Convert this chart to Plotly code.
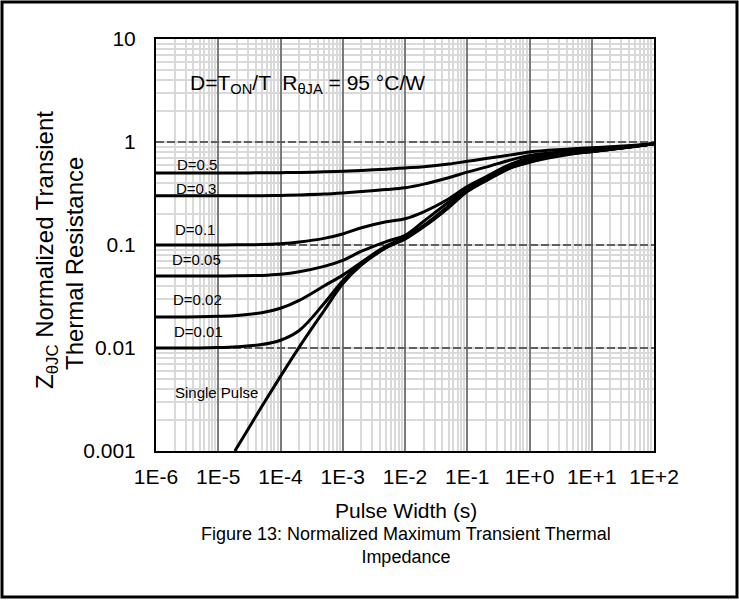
import plotly.graph_objects as go

# ---------------- data ----------------
pulse_t = [1e-6, 2e-6, 5e-6, 1e-5, 2e-5, 5e-5, 1e-4, 2e-4, 5e-4, 1e-3, 2e-3, 5e-3,
           1e-2, 2e-2, 5e-2, 1e-1, 2e-1, 5e-1, 1, 2, 5, 10, 20, 50, 100]

z_d050 = [0.50, 0.50, 0.50, 0.50, 0.501, 0.502, 0.504, 0.507, 0.513, 0.52, 0.53, 0.545,
          0.56, 0.575, 0.61, 0.65, 0.69, 0.75, 0.80, 0.83, 0.86, 0.88, 0.90, 0.93, 0.96]
z_d030 = [0.30, 0.30, 0.30, 0.30, 0.3005, 0.301, 0.303, 0.306, 0.312, 0.32, 0.33, 0.345,
          0.36, 0.39, 0.45, 0.51, 0.57, 0.67, 0.74, 0.78, 0.82, 0.85, 0.88, 0.92, 0.96]
z_d010 = [0.10, 0.10, 0.10, 0.10, 0.1005, 0.101, 0.103, 0.107, 0.116, 0.128, 0.147, 0.168,
          0.18, 0.21, 0.28, 0.37, 0.46, 0.61, 0.70, 0.75, 0.80, 0.83, 0.86, 0.91, 0.96]
z_d005 = [0.05, 0.05, 0.05, 0.05, 0.0502, 0.0507, 0.052, 0.055, 0.062, 0.071, 0.087, 0.108,
          0.124, 0.17, 0.26, 0.35, 0.44, 0.59, 0.67, 0.73, 0.79, 0.82, 0.86, 0.91, 0.96]
z_d002 = [0.02, 0.02, 0.0201, 0.0203, 0.0207, 0.022, 0.0243, 0.029, 0.040, 0.051, 0.068, 0.098,
          0.119, 0.155, 0.24, 0.34, 0.43, 0.57, 0.65, 0.72, 0.78, 0.81, 0.85, 0.91, 0.96]
z_d001 = [0.01, 0.01, 0.01, 0.0101, 0.0103, 0.0108, 0.0119, 0.0148, 0.027, 0.045, 0.066, 0.095,
          0.117, 0.152, 0.235, 0.335, 0.425, 0.565, 0.64, 0.71, 0.775, 0.81, 0.85, 0.91, 0.96]

single_t = [1.85e-5, 5e-5, 1e-4, 2e-4, 5e-4, 1e-3, 2e-3, 5e-3, 1e-2, 2e-2, 5e-2,
            1e-1, 2e-1, 5e-1, 1, 2, 5, 10, 20, 50, 100]
z_single = [0.001, 0.0027, 0.0053, 0.0102, 0.023, 0.042, 0.064, 0.094, 0.114, 0.15, 0.23,
            0.33, 0.42, 0.56, 0.635, 0.70, 0.77, 0.805, 0.845, 0.905, 0.96]

series_names = ["D=0.5", "D=0.3", "D=0.1", "D=0.05", "D=0.02", "D=0.01", "Single Pulse"]

x_tickvals = [1e-6, 1e-5, 1e-4, 1e-3, 1e-2, 1e-1, 1, 10, 100]
x_ticktext = ["1E-6", "1E-5", "1E-4", "1E-3", "1E-2", "1E-1", "1E+0", "1E+1", "1E+2"]
y_tickvals = [0.001, 0.01, 0.1, 1, 10]
y_ticktext = ["0.001", "0.01", "0.1", "1", "10"]

# ---------------- layout geometry ----------------
W, H = 739, 600
L, R, T, B = 156, 85, 39, 149
PW, PH = W - L - R, H - T - B
FONT = "Arial, Liberation Sans, sans-serif"


def px_x(p):
    return (p - L) / PW


def px_y(p):
    return (H - B - p) / PH


fig = go.Figure()

curves = [(pulse_t, z_d050), (pulse_t, z_d030), (pulse_t, z_d010),
          (pulse_t, z_d005), (pulse_t, z_d002), (pulse_t, z_d001),
          (single_t, z_single)]
for name, (tx, zy) in zip(series_names, curves):
    fig.add_trace(go.Scatter(
        x=tx, y=zy, mode="lines", name=name,
        line=dict(color="black", width=3, shape="spline", smoothing=1.0),
        showlegend=False, hoverinfo="skip"))

# curve labels (pixel centres)
label_pos = {
    "D=0.5": (196.5, 164),
    "D=0.3": (196, 189),
    "D=0.1": (195, 229),
    "D=0.05": (196.5, 259),
    "D=0.02": (197, 299),
    "D=0.01": (198.5, 331),
    "Single Pulse": (216, 392),
}
annotations = []
for name in series_names:
    px, py = label_pos[name]
    annotations.append(dict(
        x=px_x(px), y=px_y(py), xref="paper", yref="paper",
        text=name, showarrow=False, xanchor="center", yanchor="middle",
        font=dict(family=FONT, size=15, color="black")))

# info box text
annotations.append(dict(
    x=px_x(307), y=px_y(84), xref="paper", yref="paper",
    text="D=T<sub>ON</sub>/T  R<sub>θJA</sub> = 95 °C/W",
    showarrow=False, xanchor="center", yanchor="middle",
    font=dict(family=FONT, size=21, color="black")))

# y axis title (two rotated lines)
annotations.append(dict(
    x=px_x(46), y=px_y(250), xref="paper", yref="paper",
    text="Z<sub>θJC</sub> Normalized Transient",
    showarrow=False, textangle=-90, xanchor="center", yanchor="middle",
    font=dict(family=FONT, size=24, color="black")))
annotations.append(dict(
    x=px_x(74), y=px_y(264), xref="paper", yref="paper",
    text="Thermal Resistance",
    showarrow=False, textangle=-90, xanchor="center", yanchor="middle",
    font=dict(family=FONT, size=24, color="black")))

# x axis title and caption
annotations.append(dict(
    x=px_x(405.5), y=px_y(510), xref="paper", yref="paper",
    text="Pulse Width (s)", showarrow=False, xanchor="center", yanchor="middle",
    font=dict(family=FONT, size=21, color="black")))
annotations.append(dict(
    x=px_x(405.5), y=px_y(545), xref="paper", yref="paper",
    text="Figure 13: Normalized Maximum Transient Thermal<br>Impedance",
    showarrow=False, xanchor="center", yanchor="middle",
    font=dict(family=FONT, size=18, color="black")))

shapes = [
    # white info box over the grid
    dict(type="rect", xref="paper", yref="paper",
         x0=px_x(172), x1=px_x(472), y0=px_y(109), y1=px_y(55),
         fillcolor="white", line=dict(width=0), layer="between"),
    # outer frame
    dict(type="rect", xref="paper", yref="paper",
         x0=px_x(2), x1=px_x(737), y0=px_y(597), y1=px_y(2),
         fillcolor="rgba(0,0,0,0)", line=dict(color="black", width=3),
         layer="above"),
]

fig.update_layout(
    width=W, height=H,
    margin=dict(l=L, r=R, t=T, b=B, pad=0),
    paper_bgcolor="white", plot_bgcolor="white",
    font=dict(family=FONT, color="black"),
    annotations=annotations, shapes=shapes,
    showlegend=False,
)

fig.update_xaxes(
    type="log", range=[-6, 2],
    tickvals=x_tickvals, ticktext=x_ticktext,
    tickfont=dict(family=FONT, size=21, color="black"),
    ticks="", ticklen=0, ticklabelstandoff=6,
    showgrid=True, gridcolor="#7a7a7a", gridwidth=1.5,
    minor=dict(dtick="D1", showgrid=True, gridcolor="#d9d9d9", gridwidth=2,
               griddash="solid", ticks=""),
    showline=True, linecolor="black", linewidth=2, mirror=True,
    zeroline=False,
)
fig.update_yaxes(
    type="log", range=[-3, 1],
    tickvals=y_tickvals, ticktext=y_ticktext,
    tickfont=dict(family=FONT, size=21, color="black"),
    ticks="", ticklen=0, ticklabelstandoff=14,
    showgrid=True, gridcolor="#5f5f5f", gridwidth=1.5, griddash="8px,3px",
    minor=dict(dtick="D1", showgrid=True, gridcolor="#d9d9d9", gridwidth=2,
               griddash="solid", ticks=""),
    showline=True, linecolor="black", linewidth=2, mirror=True,
    zeroline=False,
)

fig.write_html("out.html")
